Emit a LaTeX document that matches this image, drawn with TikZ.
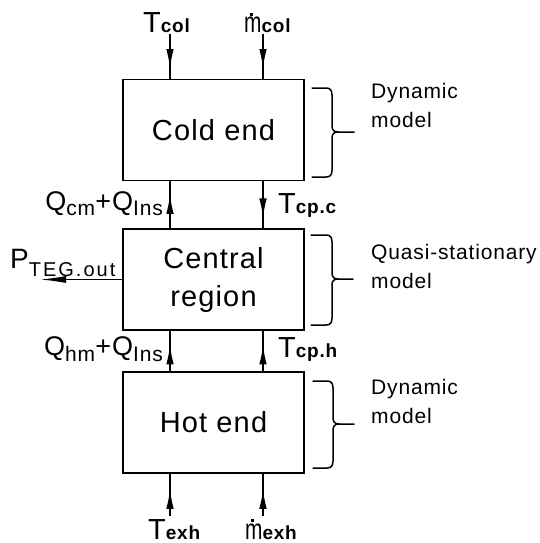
\documentclass[tikz,border=0pt]{standalone}
\usepackage{fontspec}
\usepackage{graphicx}
\setmainfont{Liberation Sans}[LetterSpace=4]
\usetikzlibrary{arrows.meta,decorations.markings}
\newcommand\mdotglyph{\leavevmode\setbox0\hbox{\scalebox{0.72}[1]{m}}\rlap{\hbox to\wd0{\hss\raisebox{0.58em}{\rule{0.1em}{0.1em}}\hskip0.08em\hss}}\box0}
\newcommand\bsub[1]{{\fontsize{19}{20}\selectfont\bfseries #1}}
\newcommand\lsub[2]{\raisebox{-#1}{\fontsize{21}{22}\selectfont #2}}
\tikzset{
  box/.style={draw, line width=1.4pt, minimum width=181pt, minimum height=101pt, inner sep=0pt, align=center, font=\fontsize{29}{38}\selectfont},
  conn/.style={line width=1.3pt},
  midarrow/.style={postaction={decorate}, decoration={markings, mark=at position #1 with {\arrow{Latex[length=19pt,width=7.5pt]}}}},
  lbl/.style={inner sep=0pt, font=\fontsize{29}{30}\selectfont},
  qlbl/.style={inner sep=0pt, font=\fontsize{27}{28}\selectfont},
  side/.style={inner sep=0pt, align=left, font=\fontsize{21}{29}\selectfont},
  bracestyle/.style={line width=1.5pt, line cap=round, line join=round},
}
\begin{document}
\begin{tikzpicture}[x=1pt,y=-1pt]
\useasboundingbox (0,0) rectangle (540,543);
% boxes
\node[box] (cold) at (213.5,130) {Cold end};
\node[box] (central) at (213.5,279.5) {Central\\region};
\node[box] (hot) at (213.5,422.5) {Hot end};
% x positions of connectors
\coordinate (xl) at (170,0);
\coordinate (xr) at (263,0);
% top inputs
\node[lbl, anchor=base west] (tcol) at (143,33) {T\bsub{col}};
\node[lbl, anchor=base west] (mcol) at (244,33) {\mdotglyph\bsub{col}};
\coordinate (tl) at (170,34);
\coordinate (tr) at (263,34);
\draw[conn, midarrow=0.76] (tl) -- (cold.north -| tl);
\draw[conn, midarrow=0.76] (tr) -- (cold.north -| tr);
% cold <-> central
\draw[conn, midarrow=0.71] (central.north -| xl) -- (cold.south -| xl);
\draw[conn, midarrow=0.77] (cold.south -| xr) -- (central.north -| xr);
\node[qlbl, anchor=base east] (qc) at (163,210) {Q\lsub{5pt}{cm}+Q\lsub{5pt}{Ins}};
\node[lbl, anchor=base west] (tcpc) at (278,213) {T\bsub{cp.c}};
% central <-> hot
\draw[conn, midarrow=0.64] (hot.north -| xl) -- (central.south -| xl);
\draw[conn, midarrow=0.64] (hot.north -| xr) -- (central.south -| xr);
\node[qlbl, anchor=base east] (qh) at (163,355) {Q\lsub{6pt}{hm}+Q\lsub{6pt}{Ins}};
\node[lbl, anchor=base west] (tcph) at (278,357) {T\bsub{cp.h}};
% power output
\node[lbl, anchor=base west, font=\fontsize{28}{30}\selectfont] (pteg) at (10,268) {P\raisebox{-8pt}{\fontsize{20}{22}\selectfont\addfontfeature{LetterSpace=10}TEG.out}};
\coordinate (pend) at (40,279.5);
\draw[conn, -{Latex[length=26pt,width=7pt]}] (central.west) -- (pend);
% bottom inputs
\coordinate (bl) at (170,516);
\coordinate (br) at (263,516);
\draw[conn, midarrow=0.62] (bl) -- (hot.south -| bl);
\draw[conn, midarrow=0.62] (br) -- (hot.south -| br);
\node[lbl, anchor=base west] (texh) at (148,539) {T\bsub{exh}};
\node[lbl, anchor=base west] (mexh) at (245,539) {\mdotglyph\bsub{exh}};
% braces
\draw[bracestyle] (312,88) -- (326,88) .. controls (330,88) and (332,90) .. (332,95) -- (332,126) .. controls (332,130) and (334,132) .. (338,132) -- (354,132);
\draw[bracestyle] (338,132) .. controls (334,132) and (332,134) .. (332,138) -- (332,170) .. controls (332,175) and (330,177) .. (326,177) -- (312,177);
\draw[bracestyle] (311,235) -- (326,235) .. controls (330,235) and (332,237) .. (332,242) -- (332,273) .. controls (332,277) and (334,279) .. (338,279) -- (353,279);
\draw[bracestyle] (338,279) .. controls (334,279) and (332,281) .. (332,285) -- (332,318) .. controls (332,323) and (330,325) .. (326,325) -- (311,325);
\draw[bracestyle] (313,381) -- (327,381) .. controls (331,381) and (333,383) .. (333,388) -- (333,418) .. controls (333,422) and (335,424) .. (339,424) -- (354,424);
\draw[bracestyle] (339,424) .. controls (335,424) and (333,426) .. (333,430) -- (333,461) .. controls (333,466) and (331,468) .. (327,468) -- (313,468);
% side texts
\node[side, anchor=base west] (s1) at (371,127) {Dynamic\\model};
\node[side, anchor=base west] (s2) at (371,288) {Quasi-stationary\\model};
\node[side, anchor=base west] (s3) at (371,423) {Dynamic\\model};
\end{tikzpicture}
\end{document}
